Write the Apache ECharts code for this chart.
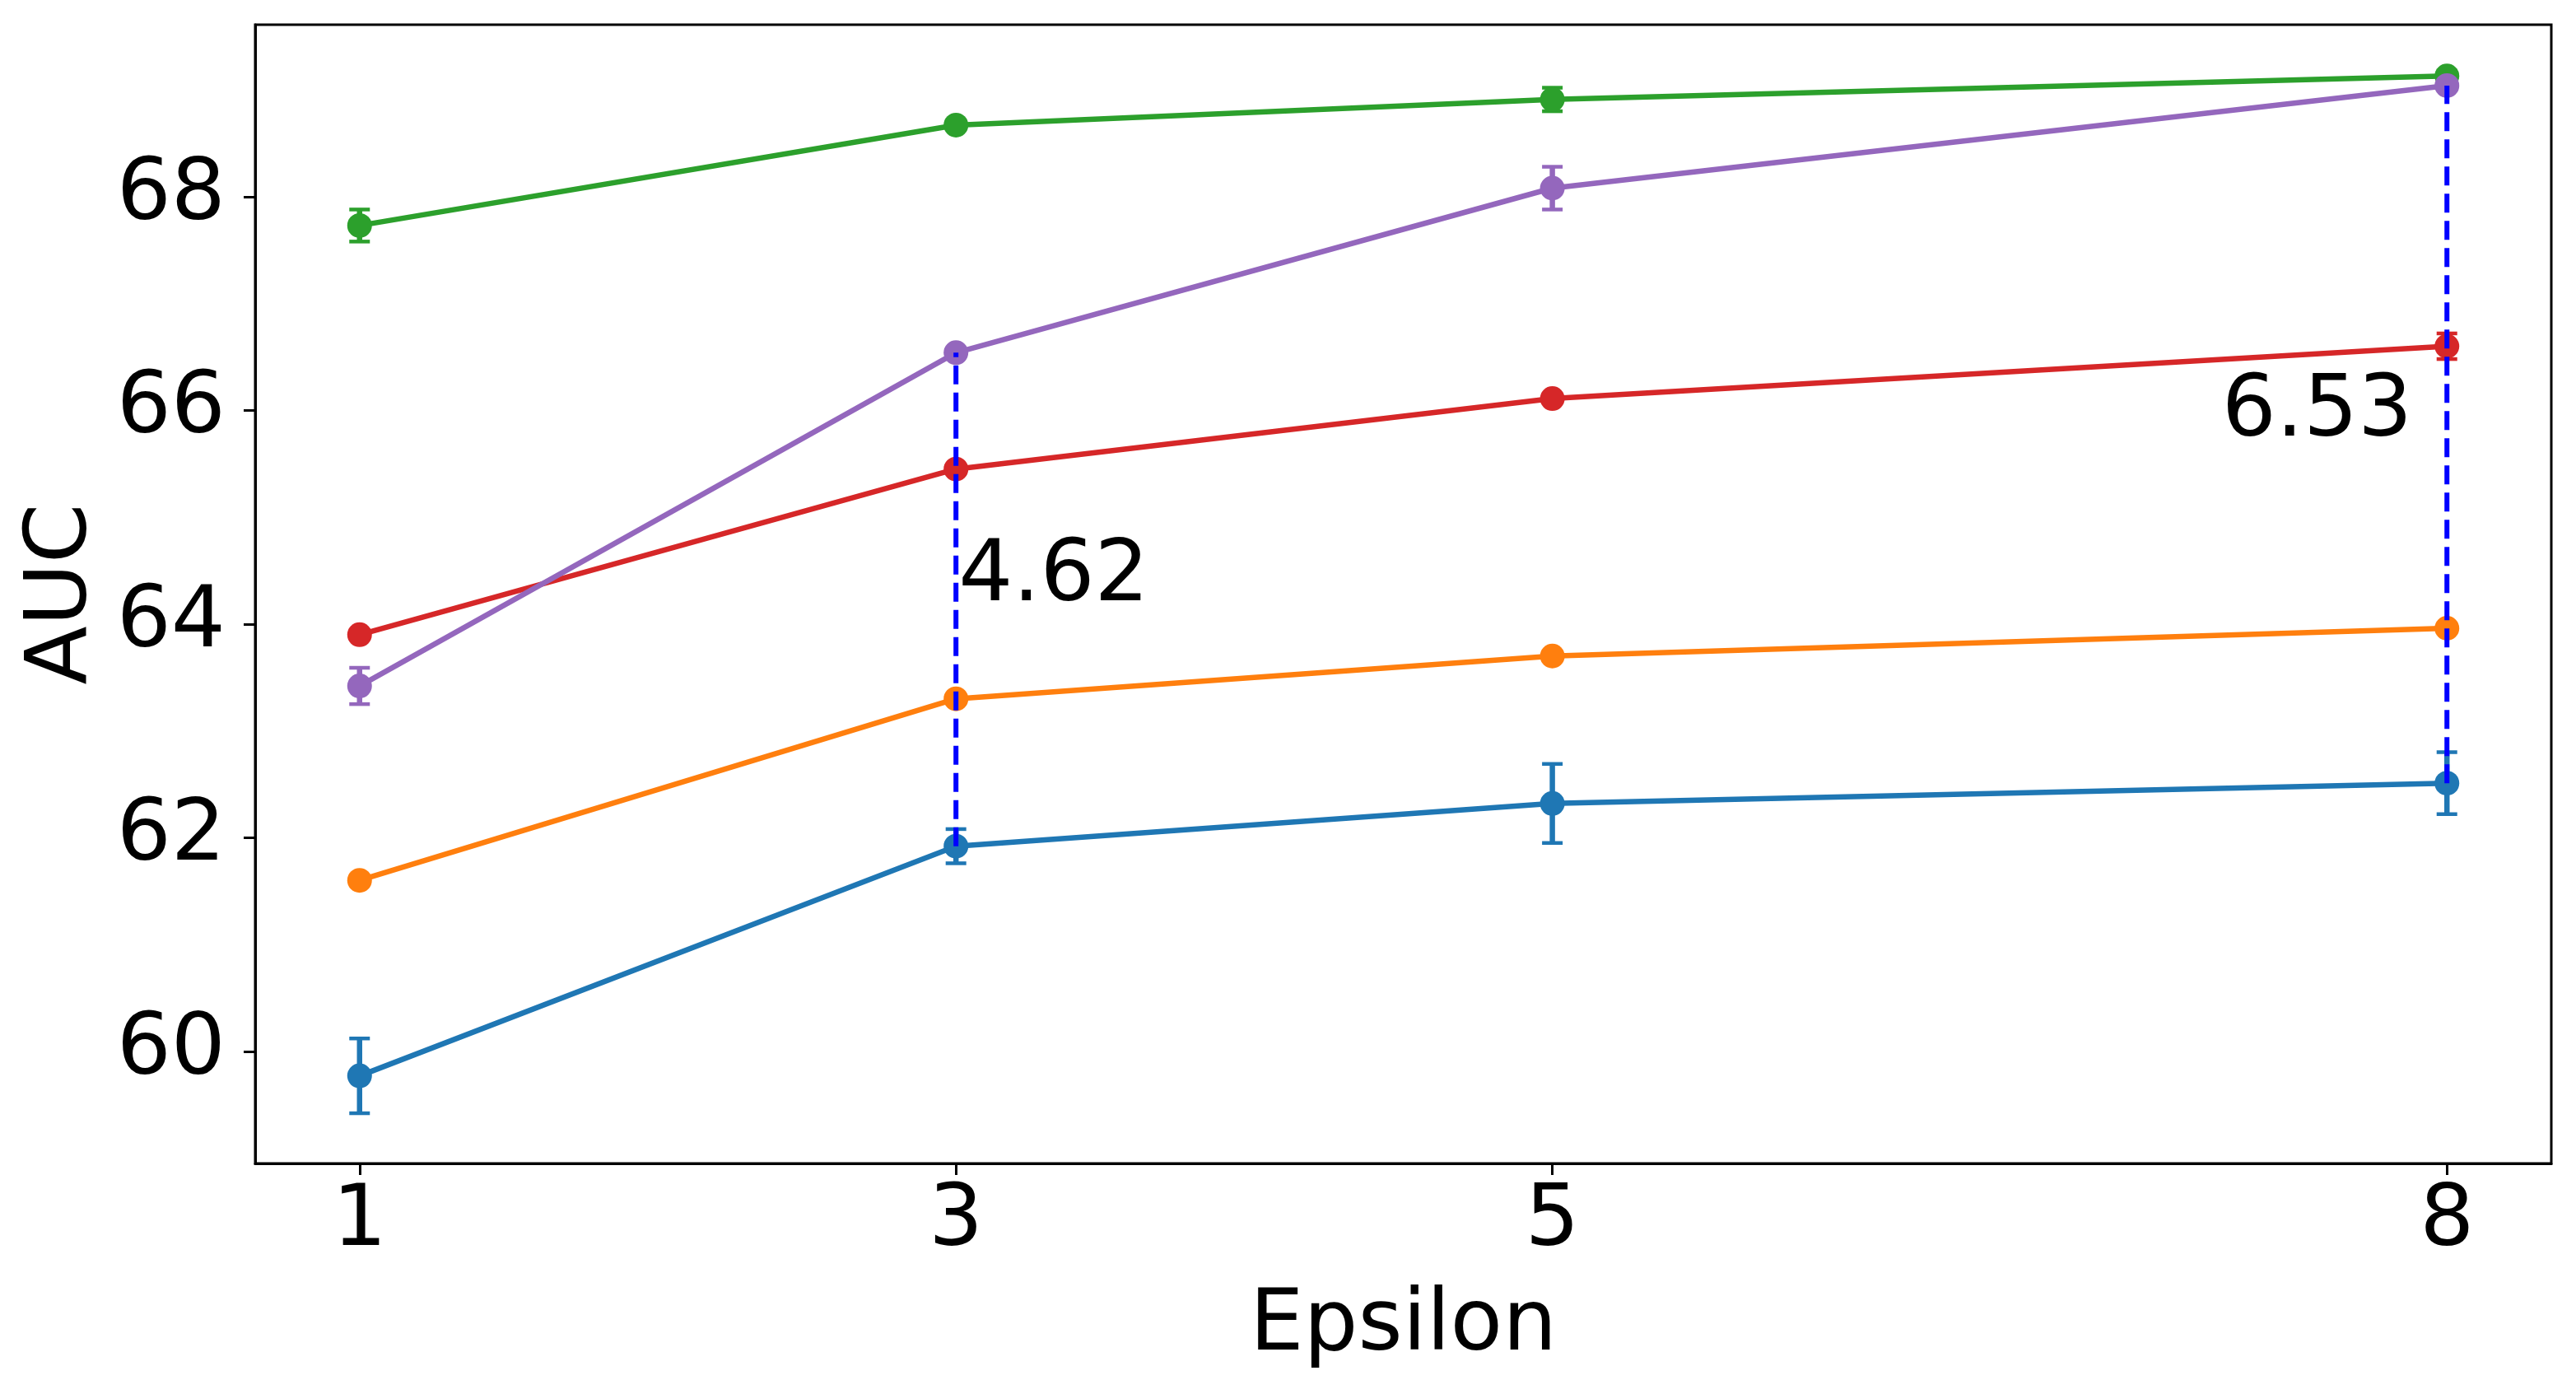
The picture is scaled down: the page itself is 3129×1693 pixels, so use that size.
<!DOCTYPE html>
<html><head><meta charset="utf-8">
<script src="https://cdn.jsdelivr.net/npm/echarts@6/dist/echarts.min.js"></script>
<style>html,body{margin:0;padding:0;background:#fff}#c{width:3129px;height:1693px}</style>
</head><body><div id="c"></div>
<script>
const epsilons = [1, 3, 5, 8];
const xTicks = [1, 3, 5, 8];
const yTicks = [60, 62, 64, 66, 68];
const blueVals = [59.77, 61.92, 62.32, 62.51];
const blueErr = [0.35, 0.16, 0.37, 0.29];
const orangeVals = [61.60, 63.30, 63.70, 63.96];
const orangeErr = [0.03, 0.03, 0.03, 0.03];
const greenVals = [67.73, 68.67, 68.91, 69.13];
const greenErr = [0.15, 0.03, 0.11, 0.05];
const redVals = [63.90, 65.45, 66.11, 66.60];
const redErr = [0.03, 0.03, 0.03, 0.12];
const purpleVals = [63.42, 66.54, 68.08, 69.04];
const purpleErr = [0.17, 0.03, 0.20, 0.04];
const gapIdx = [1, 3];            // indexes into epsilons where the gap is annotated
const gapLabels = ['4.62', '6.53'];
const gapAlign = ['left', 'right'];

const FONT = '"DejaVu Sans", "Liberation Sans", sans-serif';
const FS = 104;

const groups = [
  {vals: blueVals, err: blueErr, color: '#1f77b4'},
  {vals: orangeVals, err: orangeErr, color: '#ff7f0e'},
  {vals: greenVals, err: greenErr, color: '#2ca02c'},
  {vals: redVals, err: redErr, color: '#d62728'},
  {vals: purpleVals, err: purpleErr, color: '#9467bd'}
];

const series = [];
groups.forEach((g, gi) => {
  series.push({
    type: 'custom',
    z: 2 + gi * 2,
    data: epsilons.map((x, i) => [x, g.vals[i], g.err[i]]),
    renderItem: function (params, api) {
      const x = api.value(0), y = api.value(1), e = api.value(2);
      const t = api.coord([x, y + e]), b = api.coord([x, y - e]);
      const hw = 12.5;
      const st = {stroke: g.color, lineWidth: 6.5};
      const cs = {stroke: g.color, lineWidth: 4.5};
      return {type: 'group', children: [
        {type: 'line', shape: {x1: t[0], y1: t[1], x2: b[0], y2: b[1]}, style: st},
        {type: 'line', shape: {x1: t[0] - hw, y1: t[1], x2: t[0] + hw, y2: t[1]}, style: cs},
        {type: 'line', shape: {x1: b[0] - hw, y1: b[1], x2: b[0] + hw, y2: b[1]}, style: cs}
      ]};
    },
    animation: false
  });
  series.push({
    type: 'line',
    z: 3 + gi * 2,
    data: epsilons.map((x, i) => [x, g.vals[i]]),
    symbol: 'circle',
    symbolSize: 30,
    showSymbol: true,
    lineStyle: {color: g.color, width: 6.5},
    itemStyle: {color: g.color},
    emphasis: {disabled: true},
    animation: false
  });
});

gapIdx.forEach((idx) => {
  series.push({
    type: 'line',
    z: 20,
    data: [[epsilons[idx], blueVals[idx]], [epsilons[idx], purpleVals[idx]]],
    symbol: 'none',
    lineStyle: {color: '#0000ff', width: 6, type: [23, 10]},
    emphasis: {disabled: true},
    animation: false
  });
});

series.push({
  type: 'custom',
  z: 21,
  data: gapIdx.map((idx, k) => [epsilons[idx], (blueVals[idx] + purpleVals[idx]) / 2, k]),
  renderItem: function (params, api) {
    const k = api.value(2);
    const p = api.coord([api.value(0), api.value(1)]);
    const left = gapAlign[k] === 'left';
    return {
      type: 'text',
      x: p[0] + (left ? 3 : -42),
      y: p[1] - 26,
      style: {text: gapLabels[k], font: FS + 'px ' + FONT, fill: '#000',
              align: left ? 'left' : 'right', verticalAlign: 'middle'}
    };
  },
  animation: false
});

const chart = echarts.init(document.getElementById('c'), null, {renderer: 'canvas'});
chart.setOption({
  backgroundColor: '#fff',
  animation: false,
  grid: {left: 310, top: 30, right: 30, bottom: 280, show: true,
         borderColor: '#000', borderWidth: 3, backgroundColor: 'transparent'},
  xAxis: {
    type: 'value', min: 0.65, max: 8.35,
    name: 'Epsilon', nameLocation: 'middle', nameGap: 147,
    nameTextStyle: {fontFamily: FONT, fontSize: FS, color: '#000'},
    axisLine: {show: true, lineStyle: {color: '#000', width: 3}},
    axisTick: {show: true, customValues: xTicks, length: 14, lineStyle: {color: '#000', width: 3}},
    axisLabel: {customValues: xTicks, margin: 20, fontFamily: FONT, fontSize: FS, color: '#000'},
    splitLine: {show: false}
  },
  yAxis: {
    type: 'value', min: 58.95, max: 69.61,
    name: 'AUC', nameLocation: 'middle', nameGap: 181, nameRotate: 90,
    nameTextStyle: {fontFamily: FONT, fontSize: FS, color: '#000'},
    axisLine: {show: true, lineStyle: {color: '#000', width: 3}},
    axisTick: {show: true, customValues: yTicks, length: 14, lineStyle: {color: '#000', width: 3}},
    axisLabel: {customValues: yTicks, margin: 36, fontFamily: FONT, fontSize: FS, color: '#000'},
    splitLine: {show: false}
  },
  series: series
});
</script>
</body></html>
